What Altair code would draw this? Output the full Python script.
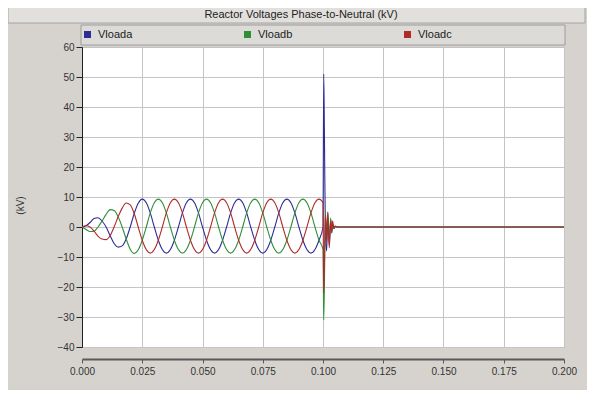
import altair as alt
import pandas as pd

TITLE = "Reactor Voltages Phase-to-Neutral (kV)"
SERIES = ["Vloada", "Vloadb", "Vloadc"]
COLORS = ["#2c2c98", "#2f8f36", "#b02a2a"]
X_TICKS = [0.0, 0.025, 0.05, 0.075, 0.1, 0.125, 0.15, 0.175, 0.2]
Y_TICKS = [-40, -30, -20, -10, 0, 10, 20, 30, 40, 50, 60]

# samples (every 1/600 s, before the fault at 0.1 s)
time_s = [0.0, 0.00167, 0.00333, 0.005, 0.00667, 0.00833, 0.01, 0.01167, 0.01333, 0.015,
          0.01667, 0.01833, 0.02, 0.02167, 0.02333, 0.025, 0.02667, 0.02833, 0.03, 0.03167,
          0.03333, 0.035, 0.03667, 0.03833, 0.04, 0.04167, 0.04333, 0.045, 0.04667, 0.04833,
          0.05, 0.05167, 0.05333, 0.055, 0.05667, 0.05833, 0.06, 0.06167, 0.06333, 0.065,
          0.06667, 0.06833, 0.07, 0.07167, 0.07333, 0.075, 0.07667, 0.07833, 0.08, 0.08167,
          0.08333, 0.085, 0.08667, 0.08833, 0.09, 0.09167, 0.09333, 0.095, 0.09667, 0.09833,
          0.1]

vloada = [0.0, 0.4, 1.5, 2.8, 3.1, 2.0, 0.0, -2.9, -5.5, -6.7,
          -6.3, -4.0, 0.0, 4.5, 7.9, 9.3, 8.1, 4.7, 0.0, -4.4,
          -7.5, -8.7, -7.5, -4.4, 0.0, 4.7, 8.1, 9.3, 8.1, 4.7,
          0.0, -4.4, -7.5, -8.7, -7.5, -4.4, 0.0, 4.7, 8.1, 9.3,
          8.1, 4.7, 0.0, -4.4, -7.5, -8.7, -7.5, -4.4, 0.0, 4.7,
          8.1, 9.3, 8.1, 4.7, 0.0, -4.4, -7.5, -8.7, -7.5, -4.4,
          0.0]

vloadb = [0.0, -0.8, -1.5, -1.4, 0.0, 2.0, 4.2, 5.8, 5.5, 3.4,
          0.0, -4.0, -7.4, -8.8, -7.6, -4.4, 0.0, 4.7, 8.1, 9.3,
          8.1, 4.7, 0.0, -4.4, -7.5, -8.7, -7.5, -4.4, 0.0, 4.7,
          8.1, 9.3, 8.1, 4.7, 0.0, -4.4, -7.5, -8.7, -7.5, -4.4,
          0.0, 4.7, 8.1, 9.3, 8.1, 4.7, 0.0, -4.4, -7.5, -8.7,
          -7.5, -4.4, 0.0, 4.7, 8.1, 9.3, 8.1, 4.7, 0.0, -4.4,
          -7.5]

vloadc = [0.0, 0.4, 0.0, -1.4, -3.1, -4.0, -4.2, -2.9, 0.0, 3.4,
          6.3, 8.0, 7.4, 4.5, 0.0, -4.4, -7.5, -8.7, -7.5, -4.4,
          0.0, 4.7, 8.1, 9.3, 8.1, 4.7, 0.0, -4.4, -7.5, -8.7,
          -7.5, -4.4, 0.0, 4.7, 8.1, 9.3, 8.1, 4.7, 0.0, -4.4,
          -7.5, -8.7, -7.5, -4.4, 0.0, 4.7, 8.1, 9.3, 8.1, 4.7,
          0.0, -4.4, -7.5, -8.7, -7.5, -4.4, 0.0, 4.7, 8.1, 9.3,
          8.1]

# transient after the breaker operation at 0.1 s
time_tr = [0.1003, 0.1006, 0.101, 0.1015, 0.102, 0.1026, 0.1032, 0.1036, 0.104, 0.1045, 0.105, 0.106, 0.2]
vloada_tr = [51.0, 30.0, -2.0, -8.0, 3.0, -6.0, 2.5, -2.0, 1.0, -0.5, 0.2, 0.0, 0.0]
vloadb_tr = [-31.0, -18.0, 5.0, -3.0, 5.0, -4.0, 3.0, -2.0, 1.0, -0.5, 0.2, 0.0, 0.0]
vloadc_tr = [-22.0, -12.0, 4.0, -5.0, 5.0, -7.0, 2.0, -1.5, 2.0, -0.5, 0.3, 0.0, 0.0]

rows = []
for name, steady, tr in zip(SERIES, [vloada, vloadb, vloadc], [vloada_tr, vloadb_tr, vloadc_tr]):
    for t, v in zip(time_s + time_tr, steady + tr):
        rows.append({"t": t, "v": v, "series": name})
df = pd.DataFrame(rows)

FONT = "Liberation Sans"
one = pd.DataFrame({"a": [0]})

title_bar = alt.Chart(one).mark_rect(fill="#e2e0dc", stroke="#a4a4a4", strokeWidth=1).encode(
    x=alt.value(-74), x2=alt.value(503), y=alt.value(-43), y2=alt.value(-24)
)
legend_bar = alt.Chart(one).mark_rect(fill="#dddbd7", stroke="#9c9c9c", strokeWidth=1).encode(
    x=alt.value(-1), x2=alt.value(483), y=alt.value(-22), y2=alt.value(-2)
)

lines = alt.Chart(df).mark_line(strokeWidth=1.1, interpolate="monotone").encode(
    x=alt.X("t:Q", scale=alt.Scale(domain=[0, 0.2], nice=False, zero=False),
            axis=alt.Axis(values=X_TICKS, format=".3f", title=None, offset=12, grid=True,
                          gridColor="#c4c4c4", domainColor="#5a5a5a", domainWidth=2,
                          tickColor="#5a5a5a", tickSize=4, labelPadding=3, labelFlush=False,
                          labelFontSize=10, labelFont=FONT, labelColor="#333333")),
    y=alt.Y("v:Q", scale=alt.Scale(domain=[-40, 60], nice=False),
            axis=alt.Axis(values=Y_TICKS, format="d", title="(kV)", grid=True,
                          gridColor="#c4c4c4", domainColor="#222222", tickColor="#222222",
                          tickSize=6, labelPadding=2, labelFontSize=10, labelFont=FONT,
                          labelFlush=False, titleY=158,
                          labelColor="#333333", titleFont=FONT, titleFontSize=10,
                          titleFontWeight="normal", titleColor="#333333", titlePadding=32)),
    color=alt.Color("series:N", scale=alt.Scale(domain=SERIES, range=COLORS),
                    legend=alt.Legend(title=None, orient="none", legendX=0, legendY=-18,
                                      direction="horizontal", symbolType="square",
                                      symbolSize=9, symbolStrokeWidth=4,
                                      labelFontSize=11, labelFont=FONT,
                                      labelColor="#222222", columnPadding=105,
                                      labelOffset=5, padding=0)),
    order=alt.Order("t:Q"),
)

chart = alt.layer(title_bar, legend_bar, lines).properties(
    width=482, height=300,
    title=alt.Title(TITLE, fontSize=11, font=FONT, fontWeight="normal", color="#222222",
                    anchor="middle", dx=-22, offset=-16),
    autosize="none",
    padding={"left": 74, "top": 39, "right": 23, "bottom": 43},
    background="#d6d3ce",
).configure_view(stroke="#a8a8a8", fill="white")

chart.save("out.html", embed_options={"renderer": "svg", "actions": False})
